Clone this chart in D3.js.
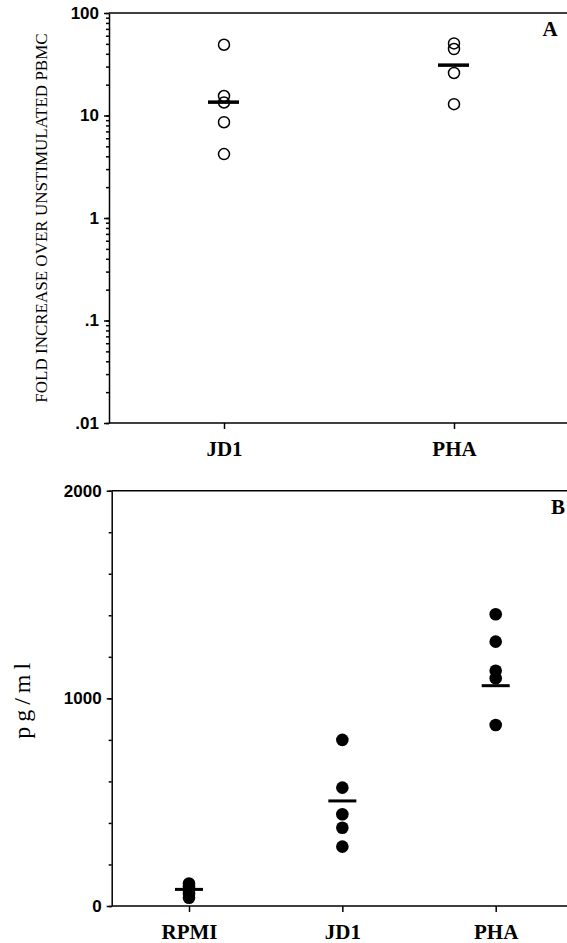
<!DOCTYPE html>
<html>
<head>
<meta charset="utf-8">
<script src="https://d3js.org/d3.v7.min.js"></script>
<style>
  body { margin: 0; background: #fff; }
  .tick text { font-family: "Liberation Sans", Arial, sans-serif; font-weight: bold; font-size: 17px; fill: #000; }
  .xaxis .tick text { font-family: "Liberation Serif", "Times New Roman", serif; font-size: 21px; }
  .domain, .tick line { stroke: #000; stroke-width: 1.5px; }
</style>
</head>
<body>
<svg width="567" height="943"></svg>
<script>
  // panel A: fold increase (log scale)
  var catsA = ["JD1", "PHA"];
  var jd1A = [49, 15.5, 13.4, 8.6, 4.2];
  var phaA = [50.5, 44.5, 26, 12.9];
  var meansA = [13.5, 31];
  var ticksA = [0.01, 0.1, 1, 10, 100];
  var tickLabelsA = [".01", ".1", "1", "10", "100"];

  // panel B: pg/ml
  var catsB = ["RPMI", "JD1", "PHA"];
  var rpmiB = [108, 92, 76, 58, 40];
  var jd1B = [800, 570, 442, 377, 286];
  var phaB = [1405, 1273, 1133, 1097, 872];
  var meansB = [80, 506, 1061];
  var ticksB = [0, 1000, 2000];

  var svg = d3.select("svg"),
    width = +svg.attr("width");

  var serif = '"Liberation Serif", "Times New Roman", serif';

  // ---------- panel A ----------
  var a = { left: 109, top: 13, bottom: 423 };

  var xA = d3.scalePoint().domain(catsA).range([224, 454]);
  var yA = d3.scaleLog().domain([0.01, 100]).range([a.bottom, a.top]);

  var gA = svg.append("g");

  // minor ticks
  gA.append("g")
    .attr("transform", "translate(" + a.left + ",0)")
    .call(d3.axisLeft(yA).tickValues(yA.ticks()).tickSize(3).tickFormat(""))
    .call(function (g) { g.select(".domain").remove(); });

  gA.append("g")
    .attr("transform", "translate(" + a.left + ",0)")
    .call(d3.axisLeft(yA).tickValues(ticksA).tickSize(5).tickSizeOuter(0).tickPadding(5)
      .tickFormat(function (d, i) { return tickLabelsA[i]; }));

  gA.append("g")
    .attr("class", "xaxis")
    .attr("transform", "translate(0," + a.bottom + ")")
    .call(d3.axisBottom(xA).tickSize(6).tickSizeOuter(0).tickPadding(12))
    .call(function (g) { g.select(".domain").attr("d", "M" + a.left + ",0H" + width); });

  gA.append("line")
    .attr("x1", a.left).attr("x2", width)
    .attr("y1", a.top).attr("y2", a.top)
    .attr("stroke", "#000").attr("stroke-width", 1.5);

  var seriesA = [jd1A, phaA];
  seriesA.forEach(function (vals, i) {
    gA.selectAll(null)
      .data(vals)
      .enter()
      .append("circle")
      .attr("cx", xA(catsA[i]))
      .attr("cy", function (d) { return yA(d); })
      .attr("r", 5.5)
      .attr("fill", "none")
      .attr("stroke", "#000")
      .attr("stroke-width", 1.5);
  });

  gA.selectAll(".meanA")
    .data(meansA)
    .enter()
    .append("line")
    .attr("class", "meanA")
    .attr("x1", function (d, i) { return xA(catsA[i]) - 16; })
    .attr("x2", function (d, i) { return xA(catsA[i]) + 15; })
    .attr("y1", function (d) { return yA(d); })
    .attr("y2", function (d) { return yA(d); })
    .attr("stroke", "#000")
    .attr("stroke-width", 3.5);

  gA.append("text")
    .attr("transform", "translate(47," + (a.top + a.bottom) / 2 + ") rotate(-90)")
    .attr("text-anchor", "middle")
    .style("font", "17px " + serif)
    .text("FOLD INCREASE OVER UNSTIMULATED PBMC");

  gA.append("text")
    .attr("x", 550).attr("y", 36)
    .attr("text-anchor", "middle")
    .style("font", "bold 21px " + serif)
    .text("A");

  // ---------- panel B ----------
  var b = { left: 111.7, top: 490.7, bottom: 906 };

  var xB = d3.scalePoint().domain(catsB).range([189, 495.7]);
  var yB = d3.scaleLinear().domain([0, 2000]).range([b.bottom, b.top]);

  var gB = svg.append("g");

  gB.append("g")
    .attr("transform", "translate(" + b.left + ",0)")
    .call(d3.axisLeft(yB).tickValues(yB.ticks(8)).tickSize(3).tickFormat(""))
    .call(function (g) { g.select(".domain").remove(); });

  gB.append("g")
    .attr("transform", "translate(" + b.left + ",0)")
    .call(d3.axisLeft(yB).tickValues(ticksB).tickSize(5).tickSizeOuter(0).tickPadding(5)
      .tickFormat(d3.format("d")));

  gB.append("g")
    .attr("class", "xaxis")
    .attr("transform", "translate(0," + b.bottom + ")")
    .call(d3.axisBottom(xB).tickSize(6).tickSizeOuter(0).tickPadding(12))
    .call(function (g) { g.select(".domain").attr("d", "M" + b.left + ",0H" + width); });

  gB.append("line")
    .attr("x1", b.left).attr("x2", width)
    .attr("y1", b.top).attr("y2", b.top)
    .attr("stroke", "#000").attr("stroke-width", 1.5);

  var seriesB = [rpmiB, jd1B, phaB];
  seriesB.forEach(function (vals, i) {
    gB.selectAll(null)
      .data(vals)
      .enter()
      .append("circle")
      .attr("cx", xB(catsB[i]))
      .attr("cy", function (d) { return yB(d); })
      .attr("r", 6.3)
      .attr("fill", "#000");
  });

  gB.selectAll(".meanB")
    .data(meansB)
    .enter()
    .append("line")
    .attr("class", "meanB")
    .attr("x1", function (d, i) { return xB(catsB[i]) - 14; })
    .attr("x2", function (d, i) { return xB(catsB[i]) + 14; })
    .attr("y1", function (d) { return yB(d); })
    .attr("y2", function (d) { return yB(d); })
    .attr("stroke", "#000")
    .attr("stroke-width", 3);

  gB.append("text")
    .attr("transform", "translate(30," + (b.top + b.bottom) / 2 + ") rotate(-90)")
    .attr("text-anchor", "middle")
    .style("font", "24px " + serif)
    .style("letter-spacing", "5px")
    .text("pg/ml");

  gB.append("text")
    .attr("x", 558).attr("y", 514)
    .attr("text-anchor", "middle")
    .style("font", "bold 21px " + serif)
    .text("B");
</script>
</body>
</html>
